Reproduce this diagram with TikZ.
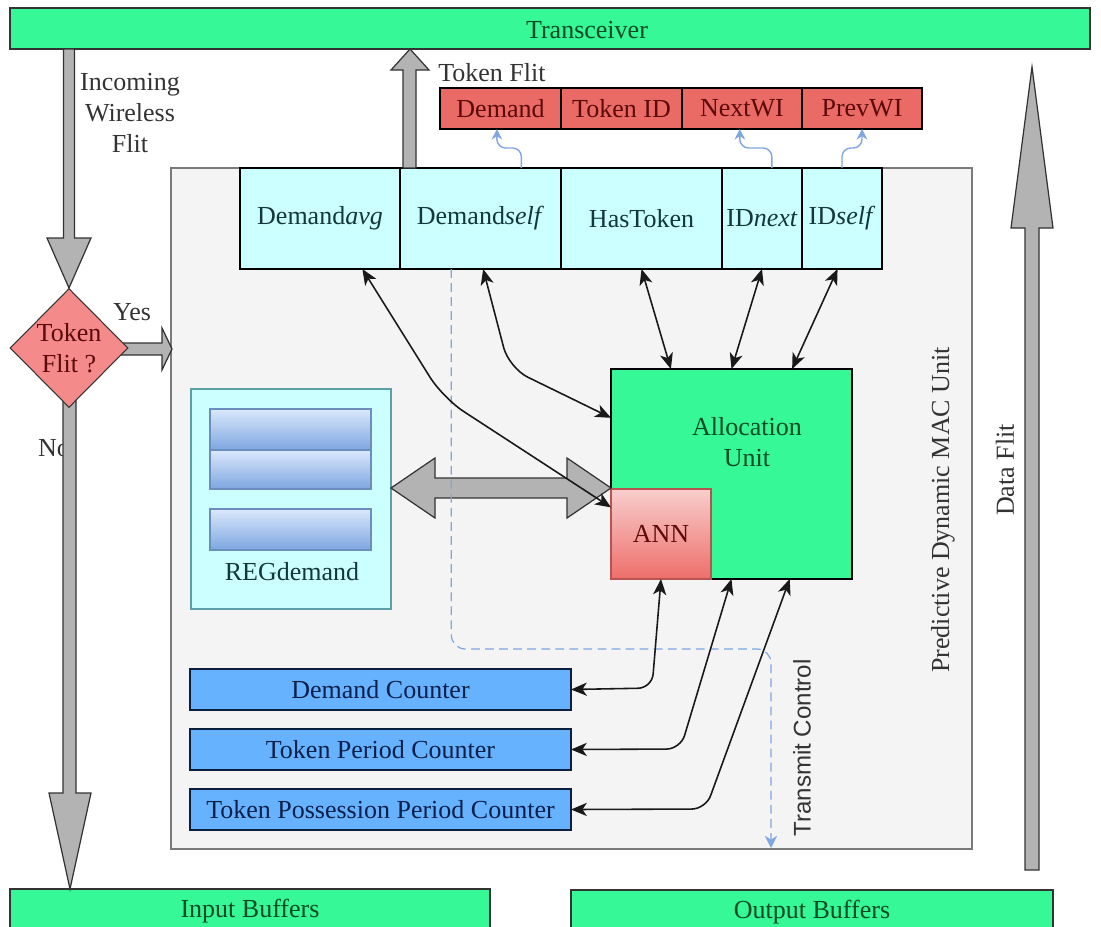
\documentclass[tikz,border=0pt]{standalone}
\usepackage{fontspec}
\setmainfont{Liberation Serif}
\newfontfamily\ctlfont{Liberation Sans}
\usetikzlibrary{shapes.geometric,arrows.meta}

\definecolor{mint}{HTML}{36F896}
\definecolor{minttext}{HTML}{0B4A22}
\definecolor{tokred}{HTML}{EA6B66}
\definecolor{tokredtext}{HTML}{5C0A0A}
\definecolor{cellcyan}{HTML}{CCFFFF}
\definecolor{celltext}{HTML}{12383A}
\definecolor{macgray}{HTML}{F4F4F4}
\definecolor{macedge}{HTML}{7A7A7A}
\definecolor{regedge}{HTML}{5E9EA8}
\definecolor{barlight}{HTML}{DAE8FC}
\definecolor{bardark}{HTML}{7EA6E0}
\definecolor{baredge}{HTML}{6C8EBF}
\definecolor{annlight}{HTML}{F8CECC}
\definecolor{anndark}{HTML}{EE6E6A}
\definecolor{annedge}{HTML}{B85450}
\definecolor{cntblue}{HTML}{66B2FF}
\definecolor{cntedge}{HTML}{0A1F3D}
\definecolor{cnttext}{HTML}{0A1F4A}
\definecolor{qpink}{HTML}{F58A8A}
\definecolor{arrowgray}{HTML}{B3B3B3}
\definecolor{arrowedge}{HTML}{333333}
\definecolor{tokblue}{HTML}{7EA6E0}
\definecolor{txtgray}{HTML}{333333}

\begin{document}
\begin{tikzpicture}[
    font=\fontsize{14.8pt}{17.6pt}\selectfont,
    sz/.style 2 args={minimum width=#1*0.02cm, minimum height=#2*0.02cm},
    blk/.style={draw, line width=0.6pt, inner sep=0pt, outer sep=0pt},
    gbar/.style={blk, draw=black!80, fill=mint},
    gtxt/.style={text=minttext},
    tokcell/.style={blk, fill=tokred, text=tokredtext},
    cell/.style={blk, fill=cellcyan, text=celltext},
    regbar/.style={blk, draw=baredge, top color=barlight, bottom color=bardark},
    counter/.style={blk, line width=0.9pt, draw=cntedge, fill=cntblue, text=cnttext},
    lbl/.style={text=txtgray, inner sep=0pt},
    fat/.style={draw=arrowedge, fill=arrowgray, line width=0.7pt},
    link/.style={draw=black!90, line width=0.9pt, {Stealth[length=9pt,width=7.5pt,inset=2.5pt]}-{Stealth[length=9pt,width=7.5pt,inset=2.5pt]}},
    tokarr/.style={draw=tokblue, line width=0.8pt, -{Stealth[length=6pt,width=6pt]}, rounded corners=5pt},
    txline/.style={draw=tokblue, line width=0.7pt, dash pattern=on 5pt off 3pt, -{Stealth[length=7pt,width=7pt]}, rounded corners=8pt}
  ]
    \def\x{0.02}
    \def\y{-0.02}
    \useasboundingbox (0,0) rectangle (1101*\x, 926*\y);
    \node[blk, draw=macedge, fill=macgray, sz={801}{681}] (mac) at (571.5*\x, 508.5*\y) {};
    \node[gbar, sz={1080}{41}] (trans) at (550*\x, 28.5*\y) {};
    \node[gtxt] (transtxt) at (587*\x, 30*\y) {Transceiver};
    \node[gbar, gtxt, sz={480}{45}] (inbuf) at (250*\x, 911.5*\y) {Input Buffers};
    \node[gbar, gtxt, sz={482}{45}] (outbuf) at (812*\x, 912.5*\y) {Output Buffers};
    \node[tokcell, sz={121}{41}] (tdem) at (500.5*\x, 108.5*\y) {Demand};
    \node[tokcell, sz={121}{41}] (ttid) at (621.5*\x, 108.5*\y) {Token ID};
    \node[tokcell, sz={120}{41}] (tnext) at (742*\x, 108.5*\y) {NextWI};
    \node[tokcell, sz={120}{41}] (tprev) at (862*\x, 108.5*\y) {PrevWI};
    \node[cell, sz={160}{101}] (davg) at (320*\x, 218.5*\y) {Demand\textit{avg}};
    \node[cell, sz={161}{101}] (dself) at (480.5*\x, 218.5*\y) {Demand\textit{self}};
    \node[cell, sz={161}{101}] (hastok) at (641.5*\x, 218.5*\y) {HasToken};
    \node[cell, sz={80}{101}] (idnext) at (762*\x, 218.5*\y) {ID\textit{next}};
    \node[cell, sz={80}{101}] (idself) at (842*\x, 218.5*\y) {ID\textit{self}};
    \node[lbl] (notxt) at (54*\x, 448*\y) {No};
    \draw[fat] (63.5*\x, 49*\y) -- (63.5*\x, 238*\y) -- (47*\x, 238*\y) -- (69*\x, 288*\y) -- (91*\x, 238*\y) -- (74.5*\x, 238*\y) -- (74.5*\x, 49*\y) -- cycle;
    \draw[fat] (63*\x, 400*\y) -- (63*\x, 793*\y) -- (49*\x, 793*\y) -- (70*\x, 889*\y) -- (91*\x, 793*\y) -- (76*\x, 793*\y) -- (76*\x, 400*\y) -- cycle;
    \draw[fat] (403*\x, 168*\y) -- (403*\x, 70*\y) -- (391*\x, 70*\y) -- (410*\x, 49*\y) -- (429*\x, 70*\y) -- (416*\x, 70*\y) -- (416*\x, 168*\y) -- cycle;
    \draw[fat] (1025*\x, 870*\y) -- (1025*\x, 228*\y) -- (1011*\x, 228*\y) -- (1032*\x, 67*\y) -- (1053*\x, 228*\y) -- (1039*\x, 228*\y) -- (1039*\x, 870*\y) -- cycle;
    \draw[fat] (120*\x, 343*\y) -- (162*\x, 343*\y) -- (162*\x, 328*\y) -- (172*\x, 349*\y) -- (162*\x, 370*\y) -- (162*\x, 355*\y) -- (120*\x, 355*\y) -- cycle;
    \node[diamond, draw=black!80, line width=0.6pt, fill=qpink, text=tokredtext, inner sep=0pt, sz={118}{119}, align=center] (tokq) at (69*\x, 348*\y) {Token\\Flit ?};
    \node[blk, draw=regedge, fill=cellcyan, sz={200}{220}] (reg) at (291*\x, 499*\y) {};
    \node[regbar, sz={161}{41}] (rbar1) at (290.5*\x, 429.5*\y) {};
    \node[regbar, sz={161}{39}] (rbar2) at (290.5*\x, 469.5*\y) {};
    \node[regbar, sz={161}{41}] (rbar3) at (290.5*\x, 529.5*\y) {};
    \node[text=celltext] (regtxt) at (292*\x, 572*\y) {REGdemand};
    \node[blk, line width=0.8pt, fill=mint, sz={241}{210}] (au) at (731.5*\x, 474*\y) {};
    \node[gtxt, align=center] (autxt) at (747*\x, 442*\y) {Allocation\\Unit};
    \node[blk, draw=annedge, top color=annlight, bottom color=anndark, text=tokredtext, sz={100}{90}] (ann) at (661*\x, 534*\y) {ANN};
    \draw[fat] (391*\x, 488*\y) -- (435*\x, 458*\y) -- (435*\x, 478*\y) -- (567*\x, 478*\y) -- (567*\x, 458*\y) -- (611*\x, 488*\y) -- (567*\x, 518*\y) -- (567*\x, 498*\y) -- (435*\x, 498*\y) -- (435*\x, 518*\y) -- cycle;
    \node[counter, sz={381}{41}] (dcnt) at (380.5*\x, 689.5*\y) {Demand Counter};
    \node[counter, sz={381}{41}] (tpcnt) at (380.5*\x, 749.5*\y) {Token Period Counter};
    \node[counter, sz={381}{41}] (tppcnt) at (380.5*\x, 809.5*\y) {Token Possession Period Counter};
    \node[lbl, anchor=west] (tflittxt) at (438*\x, 73*\y) {Token Flit};
    \node[lbl, align=center] (inctxt) at (130*\x, 113*\y) {Incoming\\Wireless\\Flit};
    \node[lbl] (yestxt) at (132*\x, 312*\y) {Yes};
    \node[lbl, rotate=90] (dflittxt) at (1005*\x, 470*\y) {Data Flit};
    \node[lbl, rotate=90] (mactxt) at (943*\x, 510*\y) {Predictive Dynamic MAC Unit};
    \node[lbl, rotate=90, font=\ctlfont\fontsize{13.7pt}{16pt}\selectfont] (txtxt) at (802*\x, 748*\y) {Transmit Control};
    \coordinate (txturn) at (771*\x, 649*\y);
    \coordinate (txend) at (771*\x, 848*\y);
    \draw[txline] (dself.-120) |- (txturn) -- (txend);
    \draw[tokarr] (dself.51) -- ++(0, -20*\y) -| (tdem.-100);
    \draw[tokarr] (idnext.79) -- ++(0, -20*\y) -| (tnext.-96);
    \draw[tokarr] (idself.north) -- ++(0, -20*\y) -| (tprev.south);
    \path (hastok.south) edge [link] (au.120);
    \path (idnext.south) edge [link] (au.north);
    \path (idself.-95) edge [link] (au.60);
    \coordinate (avgbend) at (443*\x, 398*\y);
    \coordinate (selfbend) at (509*\x, 368*\y);
    \draw[link, rounded corners=14pt] (davg.-50) -- (avgbend) -- (ann.152);
    \draw[link, rounded corners=12pt] (dself.-87) -- (selfbend) -- (au.155);
    \draw[link, rounded corners=8pt] (ann.south) -- ++(-9*\x, 109*\y) -- (dcnt.east);
    \draw[link, rounded corners=8pt] (au.south) -- ++(-51*\x, 170*\y) -- (tpcnt.east);
    \draw[link, rounded corners=8pt] (au.-61) -- ++(-84*\x, 230*\y) -- (tppcnt.east);
  \end{tikzpicture}
\end{document}
